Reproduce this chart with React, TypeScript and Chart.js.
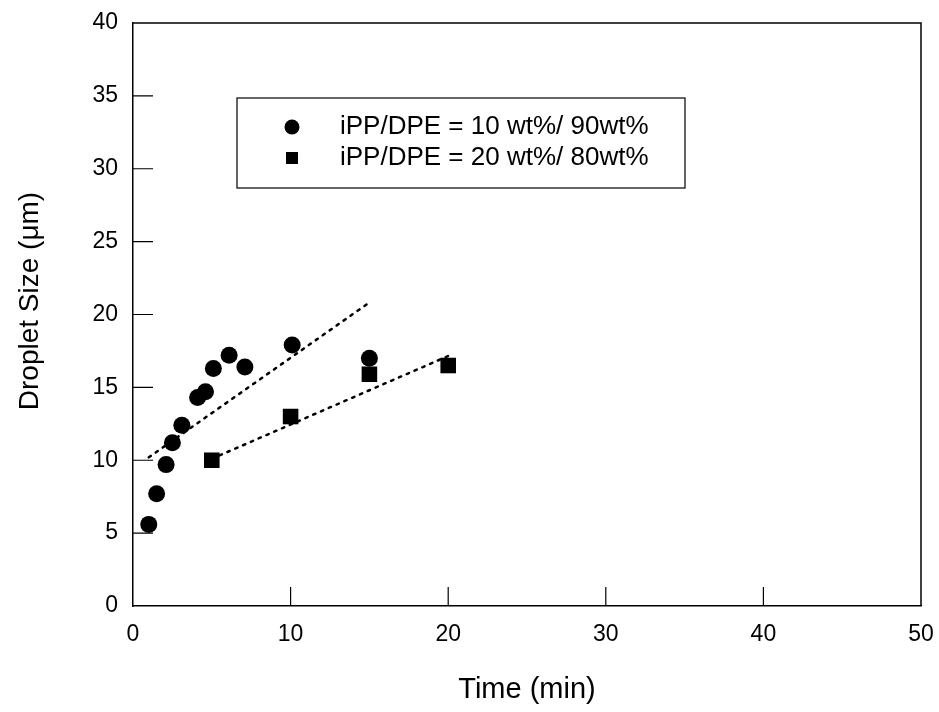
import React, { useEffect, useRef } from 'react';
import { Chart, registerables } from 'chart.js';

Chart.register(...registerables);

// ---- Data ----
const series1Time = [1, 1.5, 2.1, 2.5, 3.1, 4.1, 4.6, 5.1, 6.1, 7.1, 10.1, 15];
const series1Size = [5.6, 7.7, 9.7, 11.2, 12.4, 14.3, 14.7, 16.3, 17.2, 16.4, 17.9, 17.0];
const series2Time = [5, 10, 15, 20];
const series2Size = [10.0, 13.0, 15.9, 16.5];
const fit1Time = [1, 15.1];
const fit1Size = [10.2, 20.9];
const fit2Time = [5, 20.1];
const fit2Size = [10.1, 17.2];
const xTickValues = [0, 10, 20, 30, 40, 50];
const yTickValues = [0, 5, 10, 15, 20, 25, 30, 35, 40];
const legendLabels = ['iPP/DPE = 10 wt%/ 90wt%', 'iPP/DPE = 20 wt%/ 80wt%'];
const xTitle = 'Time (min)';
const yTitle = 'Droplet Size (\u03bcm)';

const FONT = '"Liberation Sans", Arial, Helvetica, sans-serif';

const toPoints = (xs: number[], ys: number[]) => xs.map((x, i) => ({ x, y: ys[i] }));

const framePlugin = {
  id: 'framePlugin',
  afterDraw(chart: any) {
    const { ctx, chartArea } = chart;
    const xs = chart.scales.x;
    const ys = chart.scales.y;
    ctx.save();
    ctx.strokeStyle = '#000';
    ctx.lineWidth = 1.5;
    // top and right border
    ctx.beginPath();
    ctx.moveTo(chartArea.left, chartArea.top);
    ctx.lineTo(chartArea.right, chartArea.top);
    ctx.lineTo(chartArea.right, chartArea.bottom);
    ctx.stroke();
    // inward ticks
    ctx.lineWidth = 1.2;
    ctx.beginPath();
    yTickValues.forEach((v) => {
      if (v === yTickValues[0] || v === yTickValues[yTickValues.length - 1]) return;
      const py = ys.getPixelForValue(v);
      ctx.moveTo(chartArea.left, py);
      ctx.lineTo(chartArea.left + 20, py);
    });
    xTickValues.forEach((v) => {
      if (v === xTickValues[0] || v === xTickValues[xTickValues.length - 1]) return;
      const px = xs.getPixelForValue(v);
      ctx.moveTo(px, chartArea.bottom);
      ctx.lineTo(px, chartArea.bottom - 19);
    });
    ctx.stroke();

    // y-axis title
    ctx.fillStyle = '#000';
    ctx.save();
    ctx.translate(30, 301);
    ctx.rotate(-Math.PI / 2);
    ctx.font = `28px ${FONT}`;
    ctx.textAlign = 'center';
    ctx.textBaseline = 'middle';
    ctx.fillText(yTitle, 0, 0);
    ctx.restore();

    // legend box
    const bx = 237, by = 98, bw = 448, bh = 90;
    ctx.lineWidth = 1.2;
    ctx.strokeRect(bx, by, bw, bh);
    ctx.beginPath();
    ctx.arc(292, 127, 7.5, 0, Math.PI * 2);
    ctx.fill();
    ctx.fillRect(286, 152, 12, 12);
    ctx.font = `26px ${FONT}`;
    ctx.textAlign = 'left';
    ctx.textBaseline = 'middle';
    ctx.fillText(legendLabels[0], 340, 127);
    ctx.fillText(legendLabels[1], 340, 158);
    ctx.restore();
  },
};

export default function App() {
  const ref = useRef<HTMLCanvasElement | null>(null);
  useEffect(() => {
    if (!ref.current) return;
    const chart = new Chart(ref.current, {
      type: 'scatter',
      data: {
        datasets: [
          {
            label: legendLabels[0],
            data: toPoints(series1Time, series1Size),
            pointStyle: 'circle',
            pointRadius: 8.5,
            backgroundColor: '#000',
            borderColor: '#000',
            borderWidth: 0,
          },
          {
            label: legendLabels[1],
            data: toPoints(series2Time, series2Size),
            pointStyle: 'rect',
            pointRadius: 11,
            backgroundColor: '#000',
            borderColor: '#000',
            borderWidth: 0,
          },
          {
            label: 'fit1',
            data: toPoints(fit1Time, fit1Size),
            showLine: true,
            pointRadius: 0,
            borderColor: '#000',
            borderWidth: 2.5,
            borderDash: [2.5, 6],
            borderCapStyle: 'round',
          },
          {
            label: 'fit2',
            data: toPoints(fit2Time, fit2Size),
            showLine: true,
            pointRadius: 0,
            borderColor: '#000',
            borderWidth: 2.5,
            borderDash: [2.5, 6],
            borderCapStyle: 'round',
          },
        ],
      },
      options: {
        responsive: false,
        animation: false,
        layout: { padding: { top: 23, right: 18, left: 0, bottom: 0 } },
        plugins: {
          legend: { display: false },
          tooltip: { enabled: false },
        },
        scales: {
          x: {
            type: 'linear',
            min: 0,
            max: 50,
            afterBuildTicks: (s: any) => {
              s.ticks = xTickValues.map((v) => ({ value: v }));
            },
            afterFit: (s: any) => {
              s.height = 106;
              s.paddingLeft = 0;
              s.paddingRight = 0;
            },
            ticks: {
              color: '#000',
              font: { family: FONT, size: 23 },
              padding: 15,
              maxRotation: 0,
            },
            grid: { display: false, drawTicks: false },
            border: { display: true, color: '#000', width: 1.5 },
            title: {
              display: true,
              text: xTitle,
              color: '#000',
              font: { family: FONT, size: 29 },
              padding: { top: 0, bottom: 5 },
            },
          },
          y: {
            type: 'linear',
            min: 0,
            max: 40,
            afterBuildTicks: (s: any) => {
              s.ticks = yTickValues.map((v) => ({ value: v }));
            },
            afterFit: (s: any) => {
              s.width = 133;
              s.paddingTop = 0;
              s.paddingBottom = 0;
            },
            ticks: {
              color: '#000',
              font: { family: FONT, size: 23 },
              padding: 15,
            },
            grid: { display: false, drawTicks: false },
            border: { display: true, color: '#000', width: 1.5 },
            title: { display: false },
          },
        },
      },
      plugins: [framePlugin],
    } as any);
    return () => chart.destroy();
  }, []);
  return (
    <div style={{ position: 'fixed', left: 0, top: 0, width: 939, height: 712, background: '#fff' }}>
      <canvas ref={ref} width={939} height={712} />
    </div>
  );
}
